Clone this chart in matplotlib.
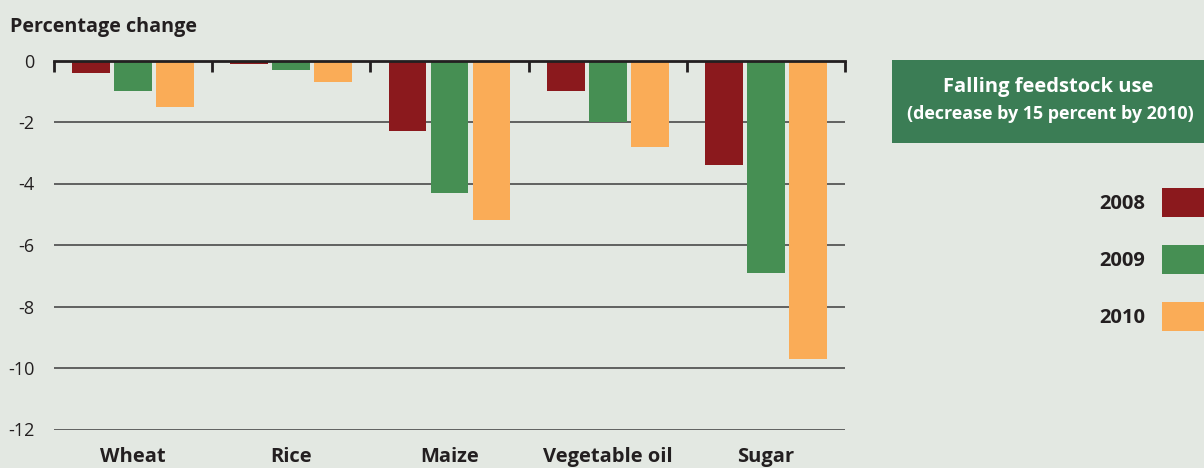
import numpy as np
import matplotlib.pyplot as plt
from matplotlib.patches import Rectangle

# Percentage change in feedstock use, by commodity and year
categories = ['Wheat', 'Rice', 'Maize', 'Vegetable oil', 'Sugar']
years = ['2008', '2009', '2010']
change_2008 = [-0.4, -0.12, -2.3, -1.0, -3.4]
change_2009 = [-1.0, -0.3, -4.3, -2.0, -6.9]
change_2010 = [-1.5, -0.7, -5.2, -2.8, -9.7]
yticks = [0, -2, -4, -6, -8, -10, -12]

colors = ['#8b191d', '#468f53', '#faac57']
bg = '#e3e8e2'
box_green = '#3b7d55'
text_dark = '#231f20'

plt.rcParams['font.family'] = ['Open Sans', 'DejaVu Sans']

fig = plt.figure(figsize=(12.04, 4.68), dpi=100, facecolor=bg)
W, H = 1204, 468
ax = fig.add_axes([54 / W, 1 - 429.5 / H, (845 - 54) / W, (429.5 - 60.5) / H])
ax.set_facecolor(bg)

x = np.arange(len(categories)) + 0.5
width = 0.24
step = 0.2655
for i, vals in enumerate([change_2008, change_2009, change_2010]):
    ax.bar(x + (i - 1) * step, vals, width, color=colors[i], zorder=3)

ax.set_xlim(0, len(categories))
ax.set_ylim(-12, 0)

# horizontal rules below zero
for v in yticks[1:]:
    ax.axhline(v, color='#4a4a4a', lw=1.2, zorder=1)

for s in ['left', 'right', 'bottom']:
    ax.spines[s].set_visible(False)
ax.spines['top'].set_color(text_dark)
ax.spines['top'].set_linewidth(2)
ax.spines['top'].set_zorder(4)

# category boundary ticks hang down from the zero line
ax.set_xticks(np.arange(len(categories) + 1))
ax.set_xticks(x, minor=True)
ax.set_xticklabels(categories, minor=True, fontsize=14.5, fontweight='bold', color=text_dark)
ax.tick_params(axis='x', which='major', top=True, bottom=False, labeltop=False,
               labelbottom=False, direction='in', length=8, width=2, color=text_dark)
ax.tick_params(axis='x', which='minor', top=False, bottom=False, labelbottom=True,
               length=0, pad=12.5)

ax.set_yticks(yticks)
ax.set_yticklabels([str(v) for v in yticks], fontsize=13, color=text_dark)
ax.tick_params(axis='y', length=0, pad=14)

fig.text(10 / W, 1 - 27 / H, 'Percentage change', fontsize=14.2, fontweight='bold',
         color=text_dark, va='center', ha='left')

# title box for the scenario
fig.add_artist(Rectangle((892 / W, 1 - 142.5 / H), (W - 892) / W, 82.5 / H,
                         transform=fig.transFigure, facecolor=box_green, edgecolor='none'))
fig.text(1048 / W, 1 - 87 / H, 'Falling feedstock use', fontsize=14.5, fontweight='bold',
         color='white', ha='center', va='center')
fig.text(1050 / W, 1 - 114 / H, '(decrease by 15 percent by 2010)', fontsize=12.9,
         fontweight='bold', color='white', ha='center', va='center')

# legend swatches
for i, yr in enumerate(years):
    top = 188 + i * 57
    fig.add_artist(Rectangle((1162 / W, 1 - (top + 29) / H), (W - 1162) / W, 29 / H,
                             transform=fig.transFigure, facecolor=colors[i], edgecolor='none'))
    fig.text(1145 / W, 1 - (top + 16) / H, yr, fontsize=14.5, fontweight='bold',
             color=text_dark, ha='right', va='center')

fig.savefig('out.png', dpi=100, facecolor=bg)
